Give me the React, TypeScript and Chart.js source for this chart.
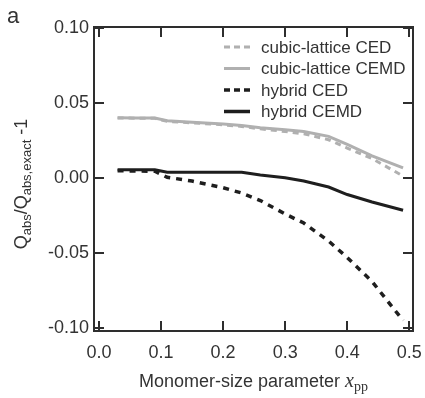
import React, { useEffect, useRef } from "react";
import { Chart, registerables } from "chart.js";

Chart.register(...registerables);

const xValues = [0.03, 0.06, 0.09, 0.11, 0.15, 0.2, 0.23, 0.26, 0.3, 0.33, 0.37, 0.4, 0.44, 0.49];
const cubicCED = [0.04, 0.0399, 0.0398, 0.0378, 0.0368, 0.0355, 0.0344, 0.0328, 0.031, 0.0295, 0.0255, 0.02, 0.013, 0.0013];
const cubicCEMD = [0.0402, 0.0401, 0.04, 0.0382, 0.0372, 0.036, 0.035, 0.0336, 0.0322, 0.031, 0.0278, 0.0225, 0.0148, 0.0067];
const hybridCED = [0.0048, 0.0047, 0.0045, 0.0005, -0.002, -0.0065, -0.01, -0.015, -0.024, -0.03, -0.042, -0.053, -0.069, -0.095];
const hybridCEMD = [0.0055, 0.0055, 0.0055, 0.0038, 0.0038, 0.0038, 0.0038, 0.002, 0.0002, -0.002, -0.006, -0.011, -0.016, -0.0215];
const seriesLabels = ["cubic-lattice CED", "cubic-lattice CEMD", "hybrid CED", "hybrid CEMD"];
const xTicks = [0, 0.1, 0.2, 0.3, 0.4, 0.5];
const yTicks = [-0.1, -0.05, 0, 0.05, 0.1];

const GRAY = "#b0b0b0";
const BLACK = "#1e1e1e";
const FRAME = "#2e2e2e";
const TEXT = "#333333";
const SANS = "'Liberation Sans', Arial, sans-serif";
const SERIF = "'Liberation Serif', 'Times New Roman', serif";

const toPoints = (ys: number[]) => xValues.map((x, i) => ({ x, y: ys[i] }));

const framePlugin = {
  id: "frame",
  afterDraw(chart: any) {
    const { ctx, chartArea: a, scales } = chart;
    const xs = scales.x;
    const ys = scales.y;
    ctx.save();
    ctx.strokeStyle = FRAME;
    ctx.lineWidth = 2;
    ctx.strokeRect(a.left, a.top, a.right - a.left, a.bottom - a.top);
    const L = 10;
    ctx.beginPath();
    for (const v of xTicks) {
      const px = Math.round(xs.getPixelForValue(v));
      ctx.moveTo(px, a.bottom);
      ctx.lineTo(px, a.bottom - L);
      ctx.moveTo(px, a.top);
      ctx.lineTo(px, a.top + L);
    }
    for (const v of yTicks) {
      const py = Math.round(ys.getPixelForValue(v));
      ctx.moveTo(a.left, py);
      ctx.lineTo(a.left + L, py);
      ctx.moveTo(a.right, py);
      ctx.lineTo(a.right - L, py);
    }
    ctx.stroke();

    // legend
    const legendItems = [
      { label: seriesLabels[0], color: GRAY, dash: [6, 4], width: 3 },
      { label: seriesLabels[1], color: GRAY, dash: [], width: 3 },
      { label: seriesLabels[2], color: BLACK, dash: [6, 4], width: 3.5 },
      { label: seriesLabels[3], color: BLACK, dash: [], width: 3.5 },
    ];
    ctx.font = `17px ${SANS}`;
    ctx.textBaseline = "middle";
    ctx.textAlign = "left";
    legendItems.forEach((it, i) => {
      const y = 47 + i * 21.5;
      ctx.beginPath();
      ctx.strokeStyle = it.color;
      ctx.lineWidth = it.width;
      ctx.setLineDash(it.dash);
      ctx.moveTo(224, y);
      ctx.lineTo(250, y);
      ctx.stroke();
      ctx.setLineDash([]);
      ctx.fillStyle = TEXT;
      ctx.fillText(it.label, 261, y + 1);
    });

    // panel label
    ctx.fillStyle = TEXT;
    ctx.textBaseline = "alphabetic";
    ctx.font = `22px ${SANS}`;
    ctx.fillText("a", 7, 23);

    // x title
    const parts = [
      { t: "Monomer-size parameter ", f: `18px ${SANS}`, dy: 0 },
      { t: "x", f: `italic 20px ${SERIF}`, dy: 0 },
      { t: "pp", f: `14px ${SERIF}`, dy: 4 },
    ];
    let total = 0;
    for (const p of parts) {
      ctx.font = p.f;
      total += ctx.measureText(p.t).width;
    }
    let cx = (a.left + a.right) / 2 - total / 2;
    for (const p of parts) {
      ctx.font = p.f;
      ctx.fillText(p.t, cx, 387 + p.dy);
      cx += ctx.measureText(p.t).width;
    }

    // y title
    const yparts = [
      { t: "Q", f: `18px ${SANS}`, dy: 0 },
      { t: "abs", f: `13px ${SANS}`, dy: 4 },
      { t: "/Q", f: `18px ${SANS}`, dy: 0 },
      { t: "abs,exact", f: `13px ${SANS}`, dy: 4 },
      { t: " -1", f: `18px ${SANS}`, dy: 0 },
    ];
    let ytotal = 0;
    for (const p of yparts) {
      ctx.font = p.f;
      ytotal += ctx.measureText(p.t).width;
    }
    ctx.translate(27, 184);
    ctx.rotate(-Math.PI / 2);
    let lx = -ytotal / 2;
    for (const p of yparts) {
      ctx.font = p.f;
      ctx.fillText(p.t, lx, p.dy);
      lx += ctx.measureText(p.t).width;
    }
    ctx.restore();
  },
};

export default function App() {
  const ref = useRef<HTMLCanvasElement | null>(null);
  useEffect(() => {
    if (!ref.current) return;
    const chart = new Chart(ref.current, {
      type: "line",
      data: {
        datasets: [
          { label: seriesLabels[0], data: toPoints(cubicCED), borderColor: GRAY, borderWidth: 3, borderDash: [6, 5], pointRadius: 0, tension: 0 },
          { label: seriesLabels[1], data: toPoints(cubicCEMD), borderColor: GRAY, borderWidth: 3, pointRadius: 0, tension: 0 },
          { label: seriesLabels[2], data: toPoints(hybridCED), borderColor: BLACK, borderWidth: 3.5, borderDash: [6, 6], pointRadius: 0, tension: 0 },
          { label: seriesLabels[3], data: toPoints(hybridCEMD), borderColor: BLACK, borderWidth: 3, pointRadius: 0, tension: 0 },
        ],
      },
      options: {
        animation: false,
        responsive: false,
        events: [],
        layout: { padding: { top: 27, right: 12, left: 0, bottom: 0 } },
        plugins: { legend: { display: false }, tooltip: { enabled: false } },
        scales: {
          x: {
            type: "linear",
            min: -0.008,
            max: 0.506,
            grid: { display: false, drawTicks: false },
            border: { display: false },
            afterBuildTicks: (s: any) => { s.ticks = xTicks.map((v) => ({ value: v })); },
            afterFit: (s: any) => { s.height = 67; s.paddingLeft = 0; s.paddingRight = 0; },
            ticks: {
              padding: 11,
              color: TEXT,
              font: { family: SANS, size: 18 },
              maxRotation: 0,
              callback: (v: any) => Number(v).toFixed(1),
            },
          },
          y: {
            type: "linear",
            min: -0.102,
            max: 0.1007,
            grid: { display: false, drawTicks: false },
            border: { display: false },
            afterBuildTicks: (s: any) => { s.ticks = yTicks.map((v) => ({ value: v })); },
            afterFit: (s: any) => { s.width = 94; s.paddingTop = 0; s.paddingBottom = 0; },
            ticks: {
              padding: 5,
              color: TEXT,
              font: { family: SANS, size: 18 },
              callback: (v: any) => Number(v).toFixed(2),
            },
          },
        },
      },
      plugins: [framePlugin],
    });
    return () => chart.destroy();
  }, []);
  return (
    <div style={{ position: "absolute", left: 0, top: 0, width: 425, height: 398, background: "#fff" }}>
      <canvas ref={ref} width={425} height={398} style={{ display: "block" }} />
    </div>
  );
}
